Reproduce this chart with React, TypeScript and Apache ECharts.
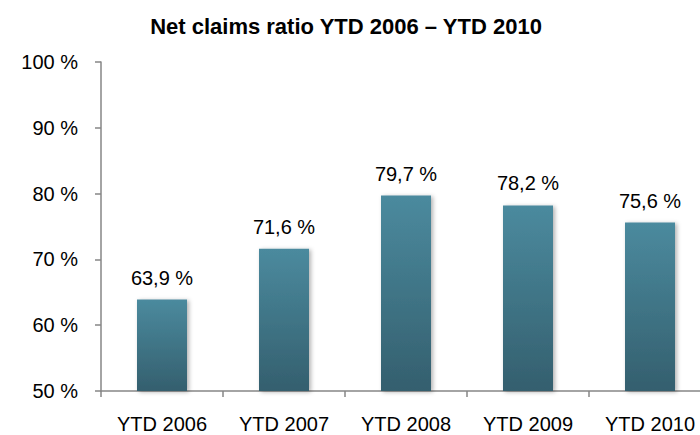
import React, { useEffect, useRef } from "react";
import * as echarts from "echarts";

const categories = ["YTD 2006", "YTD 2007", "YTD 2008", "YTD 2009", "YTD 2010"];
const values = [63.9, 71.6, 79.7, 78.2, 75.6];
const titleText = "Net claims ratio YTD 2006 – YTD 2010";

const fmt = (v: number) => v.toFixed(1).replace(".", ",") + " %";

export default function App() {
  const ref = useRef<HTMLDivElement>(null);
  useEffect(() => {
    if (!ref.current) return;
    const chart = echarts.init(ref.current, undefined, { renderer: "svg" });
    const font = "'Liberation Sans', Arial, sans-serif";
    chart.setOption({
      animation: false,
      textStyle: { fontFamily: font },
      title: {
        text: titleText,
        left: 341,
        textAlign: "center",
        top: 10,
        textStyle: { fontFamily: font, fontSize: 22, fontWeight: "bold", color: "#000" },
      },
      grid: {
        left: 101,
        top: 62,
        bottom: 44,
        width: 610,
        containLabel: false,
        outerBoundsMode: "none",
      },
      xAxis: {
        type: "category",
        data: categories,
        axisLine: { lineStyle: { color: "#868686", width: 1.5 } },
        axisTick: { show: true, length: 6, lineStyle: { color: "#868686", width: 1.5 } },
        axisLabel: { color: "#000", fontSize: 20, fontFamily: font, margin: 23, hideOverlap: false },
      },
      yAxis: {
        type: "value",
        min: 50,
        max: 100,
        interval: 10,
        axisLine: { show: true, lineStyle: { color: "#868686", width: 1.5 } },
        axisTick: { show: true, length: 6, lineStyle: { color: "#868686", width: 1.5 } },
        splitLine: { show: false },
        axisLabel: {
          color: "#000",
          fontSize: 20,
          fontFamily: font,
          margin: 23,
          formatter: (v: number) => v + " %",
        },
      },
      series: [
        {
          type: "bar",
          data: values,
          barWidth: 50,
          itemStyle: {
            color: new echarts.graphic.LinearGradient(0, 0, 0, 1, [
              { offset: 0, color: "#4b8a9e" },
              { offset: 1, color: "#345f6e" },
            ]),
            shadowColor: "rgba(0,0,0,0.3)",
            shadowBlur: 4,
            shadowOffsetX: 2,
            shadowOffsetY: 1,
          },
          label: {
            show: true,
            position: "top",
            distance: 12,
            color: "#000",
            fontSize: 20,
            fontFamily: font,
            formatter: (p: any) => fmt(p.value),
          },
        },
      ],
    });
    return () => chart.dispose();
  }, []);
  return <div ref={ref} style={{ width: 700, height: 435, position: "absolute", left: 0, top: 0 }} />;
}
